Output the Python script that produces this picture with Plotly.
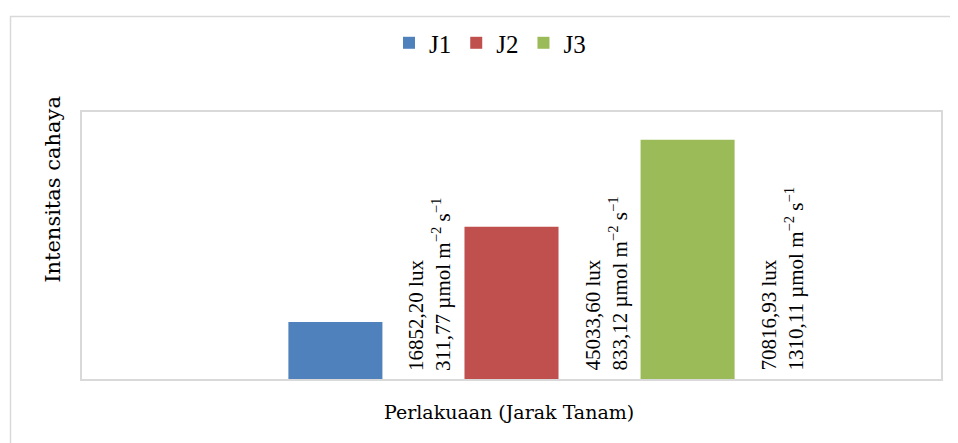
import plotly.graph_objects as go

category = ["Perlakuaan"]
series_names = ["J1", "J2", "J3"]
lux_values = [16852.20, 45033.60, 70816.93]
umol_values = [311.77, 833.12, 1310.11]
colors = ["#4f81bd", "#c0504d", "#9bbb59"]

# page is drawn with an 8px body margin; work in page pixels, convert
OFF = 8
W, H = 958 - OFF, 443 - OFF
PL, PR, PT, PB = 82, 941, 108, 379  # plot area in page pixels
ML, MR, MT, MB = PL - OFF, W - (PR - OFF), PT - OFF, H - (PB - OFF)
PW = PR - PL
PH = PB - PT
BARGAP = 0.385
BARGROUPGAP = 0.466


def px(xp):
    return (xp - PL) / PW


def py(yp):
    return (PB - yp) / PH


def fmt(v):
    return f"{v:.2f}".replace(".", ",")


fig = go.Figure()
for name, val, col in zip(series_names, lux_values, colors):
    fig.add_trace(go.Bar(name=name, x=category, y=[val], marker_color=col,
                         marker_line_width=0))

slot = PW * (1 - BARGAP) / len(series_names)
label_font = dict(family="Liberation Serif", size=21, color="#000000")
for i, (lx, um) in enumerate(zip(lux_values, umol_values)):
    offset = (i - (len(series_names) - 1) / 2) * slot + 94
    fig.add_annotation(
        x=category[0], y=0, xref="x", yref="y",
        xshift=offset, yshift=6,
        text=f"{fmt(lx)} lux<br>{fmt(um)} µmol m<sup>−2</sup> s<sup>−1</sup>",
        textangle=-90, showarrow=False, align="left",
        xanchor="center", yanchor="bottom", font=label_font,
    )

# y-axis title
fig.add_annotation(
    x=px(53), y=py(187), xref="paper", yref="paper",
    text="Intensitas cahaya", textangle=-90, showarrow=False,
    xanchor="center", yanchor="middle",
    font=dict(family="DejaVu Serif", size=21, color="#000000"),
)
# x-axis title
fig.add_annotation(
    x=px(509), y=py(413), xref="paper", yref="paper",
    text="Perlakuaan (Jarak Tanam)", showarrow=False,
    xanchor="center", yanchor="middle",
    font=dict(family="DejaVu Serif", size=19, color="#000000"),
)

# outer chart border (cropped by the page edges)
fig.add_shape(type="rect", xref="paper", yref="paper",
              x0=px(10.5), x1=2, y0=-2, y1=py(11),
              line=dict(color="#d9d9d9", width=1.5), layer="below")

fig.update_layout(
    width=W, height=H,
    margin=dict(l=ML, r=MR, t=MT, b=MB),
    paper_bgcolor="white", plot_bgcolor="white",
    barmode="group", bargap=BARGAP, bargroupgap=BARGROUPGAP,
    showlegend=True,
    legend=dict(orientation="h", x=px(490), xanchor="center",
                y=py(38), yanchor="middle",
                font=dict(family="Liberation Serif", size=25, color="#000000"),
                itemwidth=30, traceorder="normal"),
    xaxis=dict(showticklabels=False, showgrid=False, zeroline=False,
               showline=True, mirror=True, linecolor="#d9d9d9", linewidth=1.5,
               ticks=""),
    yaxis=dict(range=[0, 79000], showticklabels=False, showgrid=False,
               zeroline=False, showline=True, mirror=True,
               linecolor="#d9d9d9", linewidth=1.5, ticks=""),
)

fig.write_html("out.html")
